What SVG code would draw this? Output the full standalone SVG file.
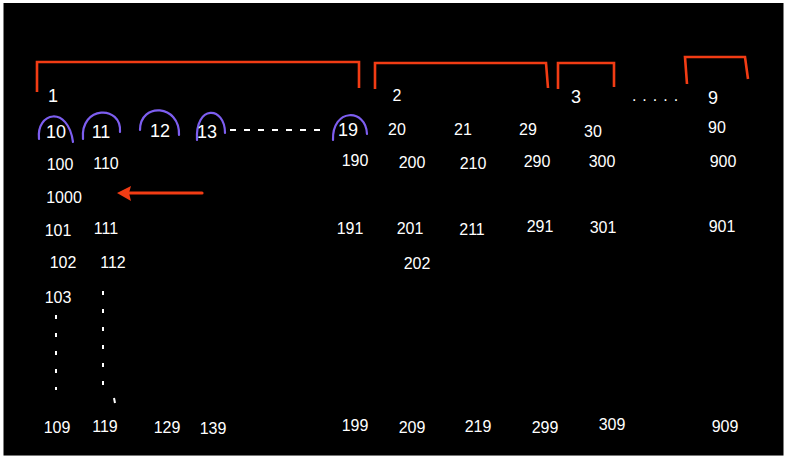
<svg xmlns="http://www.w3.org/2000/svg" width="787" height="461" viewBox="0 0 787 461">
<defs>
<style>
.n{font-family:"Liberation Sans",Arial,sans-serif;font-size:16px;fill:#fff;text-anchor:middle}
.b{font-size:18px}
.br{fill:none;stroke:#f23c14;stroke-width:2.6;stroke-linejoin:miter}
.arc{fill:none;stroke:#7d5ef0;stroke-width:2.2;stroke-linecap:round}
.dot{fill:none;stroke:#fff;stroke-width:2;stroke-dasharray:4 14}
</style>
</defs>
<rect x="0" y="0" width="787" height="461" fill="#fff"/>
<rect x="3.5" y="3" width="780" height="452" fill="#000"/>
<line x1="3.5" y1="455.5" x2="783.5" y2="455.5" stroke="#777" stroke-width="1"/>

<g id="brackets">
<path class="br" d="M37,92 V62 H359 V88"/>
<path class="br" d="M375,89 V63 H546 L548,88"/>
<path class="br" d="M558,89 V63 H614 V87"/>
<path class="br" d="M687,84 L685,57 H745 L748,79"/>
</g>

<g id="top-labels">
<text class="n b" x="53" y="102">1</text>
<text class="n" x="397" y="101">2</text>
<text class="n b" x="576" y="103">3</text>
<text class="n" x="658" y="101" style="letter-spacing:6px">.....</text>
<text class="n b" x="713" y="104">9</text>
</g>

<g id="arcs">
<path class="arc" d="M39,139 C36,112 68,105 73,142"/>
<path class="arc" d="M83,139 C80,105 122,105 120,132"/>
<path class="arc" d="M140,130 C140,102 180,104 179,135"/>
<path class="arc" d="M197,140 C195,104 225,106 225,133"/>
<path class="arc" d="M333,140 C332,108 366,108 367,134"/>
</g>

<g id="row2">
<text class="n b" x="56" y="138">10</text>
<text class="n b" x="101" y="138">11</text>
<text class="n b" x="160" y="137">12</text>
<text class="n b" x="207" y="138">13</text>
<line x1="230" y1="130" x2="326" y2="130" stroke="#fff" stroke-width="1.8" stroke-dasharray="6 8"/>
<text class="n b" x="348" y="136">19</text>
<text class="n" x="397" y="135">20</text>
<text class="n" x="463" y="135">21</text>
<text class="n" x="528" y="135">29</text>
<text class="n" x="593" y="137">30</text>
<text class="n" x="717" y="133">90</text>
</g>

<g id="row3">
<text class="n" x="60" y="170">100</text>
<text class="n" x="106" y="169">110</text>
<text class="n" x="355" y="166">190</text>
<text class="n" x="412" y="168">200</text>
<text class="n" x="473" y="169">210</text>
<text class="n" x="537" y="167">290</text>
<text class="n" x="602" y="167">300</text>
<text class="n" x="723" y="167">900</text>
</g>

<g id="n1000"><text class="n" x="64" y="203">1000</text></g>

<g id="row4">
<text class="n" x="58" y="236">101</text>
<text class="n" x="106" y="234">111</text>
<text class="n" x="350" y="234">191</text>
<text class="n" x="410" y="234">201</text>
<text class="n" x="472" y="235">211</text>
<text class="n" x="540" y="232">291</text>
<text class="n" x="603" y="233">301</text>
<text class="n" x="722" y="232">901</text>
</g>

<g id="row5">
<text class="n" x="63" y="268">102</text>
<text class="n" x="113" y="268">112</text>
<text class="n" x="417" y="269">202</text>
<text class="n" x="58" y="303">103</text>
</g>

<g id="vdots">
<line class="dot" x1="56" y1="315" x2="56" y2="390"/>
<line class="dot" x1="103" y1="291" x2="103" y2="390"/>
<line x1="114" y1="398" x2="115" y2="403" stroke="#fff" stroke-width="2"/>
</g>

<g id="row-bottom">
<text class="n" x="57" y="433">109</text>
<text class="n" x="105" y="432">119</text>
<text class="n" x="167" y="433">129</text>
<text class="n" x="213" y="434">139</text>
<text class="n" x="355" y="431">199</text>
<text class="n" x="412" y="433">209</text>
<text class="n" x="478" y="432">219</text>
<text class="n" x="545" y="433">299</text>
<text class="n" x="612" y="430">309</text>
<text class="n" x="725" y="432">909</text>
</g>

<g id="connectors">
<line x1="202" y1="193" x2="129" y2="193" stroke="#f23c14" stroke-width="3.2" stroke-linecap="round"/>
<polygon points="117,193 131,186 129,193 131,201" fill="#f23c14"/>
</g>
</svg>
